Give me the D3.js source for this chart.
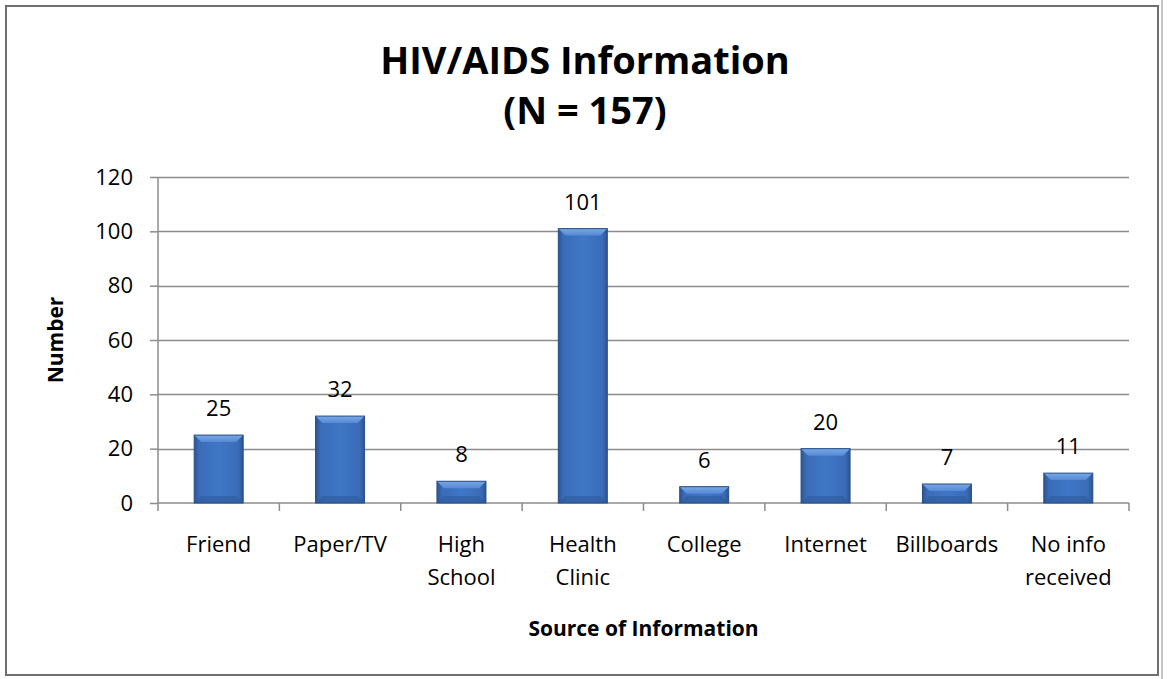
<!DOCTYPE html>
<html>
<head>
<meta charset="utf-8">
<script src="https://cdn.jsdelivr.net/npm/d3@7"></script>
<style>
  html, body { margin: 0; padding: 0; background: #fff; }
  svg { display: block; }
  text { font-family: "Open Sans", Lato, sans-serif; fill: #000; }
</style>
</head>
<body>
<svg id="chart" width="1171" height="679"></svg>
<script>
// ---- data ----
const titleLines = ["HIV/AIDS Information", "(N = 157)"];
const categories = ["Friend", "Paper/TV", "High\nSchool", "Health\nClinic", "College", "Internet", "Billboards", "No info\nreceived"];
const values = [25, 32, 8, 101, 6, 20, 7, 11];
const yTicks = [0, 20, 40, 60, 80, 100, 120];
const xAxisTitle = "Source of Information";
const yAxisTitle = "Number";

// ---- layout ----
const W = 1171, H = 679;
const plot = { left: 158, right: 1129, top: 177, bottom: 503 };
const FONT = "\"Open Sans\", Lato, sans-serif";

const svg = d3.select("#chart");

// frame
svg.append("rect").attr("x", 6).attr("y", 6).attr("width", 1152).attr("height", 669)
  .attr("fill", "#fff").attr("stroke", "#6f6f6f").attr("stroke-width", 2);
svg.append("line").attr("x1", 1162).attr("x2", 1162).attr("y1", 0).attr("y2", H)
  .attr("stroke", "#b0b0b0").attr("stroke-width", 1.5);

// defs: gradients
const defs = svg.append("defs");
const gBody = defs.append("linearGradient").attr("id", "gBody").attr("x1", 0).attr("x2", 1).attr("y1", 0).attr("y2", 0);
[["0%", "#2c5592"], ["10%", "#3a6cb8"], ["50%", "#3f77c6"], ["90%", "#3a6cb8"], ["100%", "#2c5592"]]
  .forEach(([o, c]) => gBody.append("stop").attr("offset", o).attr("stop-color", c));
const gTop = defs.append("linearGradient").attr("id", "gTop").attr("x1", 0).attr("x2", 0).attr("y1", 0).attr("y2", 1);
[["0%", "#7aa8e6"], ["100%", "#5689d4"]]
  .forEach(([o, c]) => gTop.append("stop").attr("offset", o).attr("stop-color", c));

// scales
const x = d3.scaleBand().domain(categories).range([plot.left, plot.right]).paddingInner(0).paddingOuter(0);
const y = d3.scaleLinear().domain([0, 120]).range([plot.bottom, plot.top]);

// gridlines
svg.append("g").selectAll("line").data(yTicks.filter(d => d > 0)).join("line")
  .attr("x1", plot.left).attr("x2", plot.right)
  .attr("y1", d => Math.round(y(d)) + 0.5).attr("y2", d => Math.round(y(d)) + 0.5)
  .attr("stroke", "#8c8c8c").attr("stroke-width", 1.3);

// y axis
const yAxis = svg.append("g").attr("transform", `translate(${plot.left},0)`)
  .call(d3.axisLeft(y).tickValues(yTicks).tickSize(8).tickPadding(17).tickFormat(d3.format("d")));
yAxis.select(".domain").attr("stroke", "#8c8c8c").attr("stroke-width", 1.5).attr("d", `M0,${plot.top}V${plot.bottom}`);
yAxis.selectAll(".tick line").attr("stroke", "#8c8c8c").attr("stroke-width", 1.5);
yAxis.selectAll(".tick text").attr("font-size", 22).attr("font-family", FONT).attr("fill", "#000");

// x axis
const xAxis = svg.append("g").attr("transform", `translate(0,${plot.bottom})`)
  .call(d3.axisBottom(x).tickSize(0).tickFormat(""));
xAxis.select(".domain").attr("stroke", "#8c8c8c").attr("stroke-width", 1.5).attr("d", `M${plot.left},0H${plot.right}`);
// category boundary ticks
const bounds = categories.map(c => x(c)).concat([plot.right]);
xAxis.append("g").selectAll("line").data(bounds).join("line")
  .attr("x1", d => d).attr("x2", d => d).attr("y1", 0).attr("y2", 8)
  .attr("stroke", "#8c8c8c").attr("stroke-width", 1.5);

// category labels
const catLabels = svg.append("g").selectAll("text").data(categories).join("text")
  .attr("x", d => x(d) + x.bandwidth() / 2)
  .attr("y", 552)
  .attr("text-anchor", "middle")
  .attr("font-size", 22);
catLabels.each(function(d) {
  const lines = d.split("\n");
  const t = d3.select(this);
  lines.forEach((ln, i) => {
    t.append("tspan").attr("x", x(d) + x.bandwidth() / 2).attr("dy", i === 0 ? 0 : 33).text(ln);
  });
});

// bars
const barW = 49;
const bev = 7;
const bars = svg.append("g").selectAll("g").data(values.map((v, i) => ({ v, c: categories[i] }))).join("g");
bars.each(function(d) {
  const g = d3.select(this);
  const x0 = x(d.c) + x.bandwidth() / 2 - barW / 2;
  const y0 = y(d.v), y1 = y(0);
  const h = y1 - y0;
  const b = Math.min(bev, h / 2);
  g.append("rect").attr("x", x0).attr("y", y0).attr("width", barW).attr("height", h)
    .attr("fill", "url(#gBody)");
  // top bevel
  g.append("polygon")
    .attr("points", [[x0, y0], [x0 + barW, y0], [x0 + barW - b, y0 + b], [x0 + b, y0 + b]].map(p => p.join(",")).join(" "))
    .attr("fill", "url(#gTop)");
  // bottom bevel (darker)
  g.append("polygon")
    .attr("points", [[x0, y1], [x0 + barW, y1], [x0 + barW - b, y1 - b], [x0 + b, y1 - b]].map(p => p.join(",")).join(" "))
    .attr("fill", "#2e5a9c").attr("opacity", 0.6);
  g.append("rect").attr("x", x0).attr("y", y0).attr("width", barW).attr("height", h)
    .attr("fill", "none").attr("stroke", "#274e88").attr("stroke-width", 1);
  // value label
  g.append("text").attr("x", x0 + barW / 2).attr("y", y0 - 19)
    .attr("text-anchor", "middle").attr("font-size", 22).text(d.v);
});

// title
svg.append("g").selectAll("text").data(titleLines).join("text")
  .attr("x", 585).attr("y", (d, i) => 74 + i * 50)
  .attr("text-anchor", "middle").attr("font-size", 38).attr("font-weight", "bold")
  .text(d => d);

// axis titles
svg.append("text").attr("x", (plot.left + plot.right) / 2).attr("y", 636)
  .attr("text-anchor", "middle").attr("font-size", 21).attr("font-weight", "bold").text(xAxisTitle);
svg.append("text").attr("transform", `translate(63,${(plot.top + plot.bottom) / 2}) rotate(-90)`)
  .attr("text-anchor", "middle").attr("font-size", 21).attr("font-weight", "bold").text(yAxisTitle);
</script>
</body>
</html>
